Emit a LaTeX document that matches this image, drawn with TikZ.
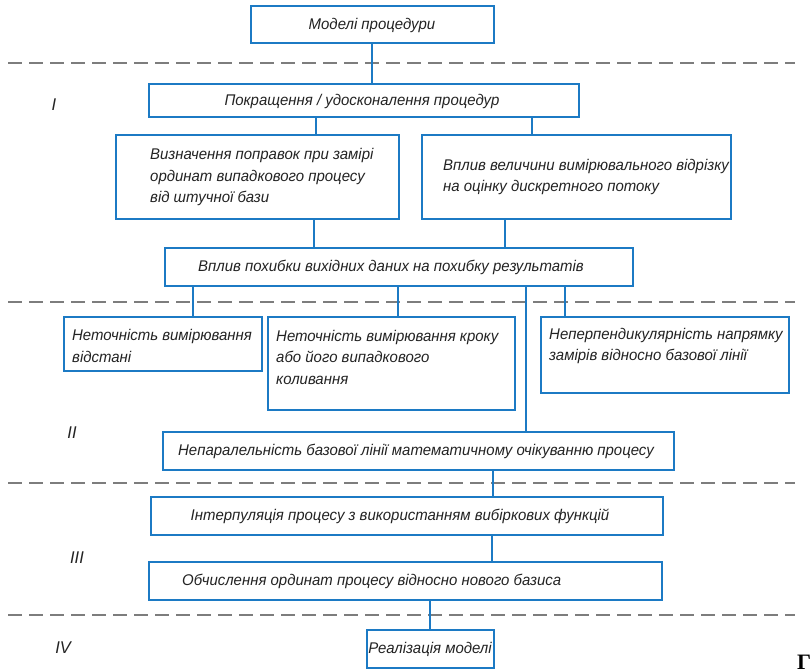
\documentclass[tikz,border=0pt]{standalone}
\usepackage{fontspec}
\setmainfont{Liberation Sans}
\newfontfamily\gost{Liberation Sans}[FakeStretch=0.965]
\newfontfamily\serifbold{Liberation Serif}
\usetikzlibrary{calc}

\definecolor{boxblue}{RGB}{28,122,196}
\definecolor{ink}{RGB}{35,35,35}
\definecolor{sepgray}{RGB}{125,125,125}

\begin{document}
\begin{tikzpicture}[x=1pt,y=-1pt,
  box/.style={draw=boxblue, line width=1.8pt, rectangle, inner sep=0pt, anchor=north west},
  link/.style={draw=boxblue, line width=1.6pt},
  sep/.style={draw=sepgray, line width=1.4pt, dash pattern=on 14pt off 7pt},
  txt/.style={font=\gost\itshape\fontsize{15.5}{21.5}\selectfont, text=ink, inner sep=0pt, align=left},
  roman/.style={font=\gost\itshape\fontsize{17}{17}\selectfont, text=ink, inner sep=0pt}]

% page
\fill[white] (0,0) rectangle (812,669);
\useasboundingbox (0,0) rectangle (812,669);

% stage separators
\draw[sep] (8,63) -- (795,63);
\draw[sep] (8,302) -- (795,302);
\draw[sep] (8,483) -- (795,483);
\draw[sep] (8,615) -- (795,615);

% boxes
\node[box, minimum width=243pt, minimum height=37pt] (b1) at (250,5) {};
\node[box, minimum width=430pt, minimum height=33pt] (b2) at (148,83) {};
\node[box, minimum width=283pt, minimum height=84pt] (b3) at (115,134) {};
\node[box, minimum width=309pt, minimum height=84pt] (b4) at (421,134) {};
\node[box, minimum width=468pt, minimum height=38pt] (b5) at (164,247) {};
\node[box, minimum width=198pt, minimum height=54pt] (b6) at (63,316) {};
\node[box, minimum width=247pt, minimum height=93pt] (b7) at (267,316) {};
\node[box, minimum width=248pt, minimum height=76pt] (b8) at (540,316) {};
\node[box, minimum width=511pt, minimum height=38pt] (b9) at (162,431) {};
\node[box, minimum width=512pt, minimum height=38pt] (b10) at (150,496) {};
\node[box, minimum width=513pt, minimum height=38pt] (b11) at (148,561) {};
\node[box, minimum width=127pt, minimum height=38pt] (b12) at (366,629) {};

% texts
\node[txt] (t1) at (372,25) {Моделі процедури};
\node[txt] (t2) at (362,101) {Покращення / удосконалення процедур};
\node[txt, anchor=west] (t3) at (150,177) {Визначення поправок при замірі\\ординат випадкового процесу\\від штучної бази};
\node[txt, anchor=west] (t4) at (443,177) {Вплив величини вимірювального відрізку\\на оцінку дискретного потоку};
\node[txt] (t5) at (391,267) {Вплив похибки вихідних даних на похибку результатів};
\node[txt, anchor=west] (t6) at (72,346) {Неточність вимірювання\\відстані};
\node[txt, anchor=west] (t7) at (276,357) {Неточність вимірювання кроку\\або його випадкового\\коливання};
\node[txt, anchor=west] (t8) at (549,346) {Неперпендикулярність напрямку\\замірів відносно базової лінії};
\node[txt] (t9) at (416,451) {Непаралельність базової лінії математичному очікуванню процесу};
\node[txt] (t10) at (400,516) {Інтерпуляція процесу з використанням вибіркових функцій};
\node[txt, anchor=west] (t11) at (182,581) {Обчислення ординат процесу відносно нового базиса};
\node[txt] (t12) at (430,649) {Реалізація моделі};

% stage numbers
\node[roman] (r1) at (54,105) {I};
\node[roman] (r2) at (72,433) {II};
\node[roman] (r3) at (77,558) {III};
\node[roman] (r4) at (63,648) {IV};

% connectors
\draw[link] (372,0 |- b1.south) -- (372,0 |- b2.north);
\draw[link] (316,0 |- b2.south) -- (316,0 |- b3.north);
\draw[link] (532,0 |- b2.south) -- (532,0 |- b4.north);
\draw[link] (314,0 |- b3.south) -- (314,0 |- b5.north);
\draw[link] (505,0 |- b4.south) -- (505,0 |- b5.north);
\draw[link] (193,0 |- b5.south) -- (193,0 |- b6.north);
\draw[link] (398,0 |- b5.south) -- (398,0 |- b7.north);
\draw[link] (526,0 |- b5.south) -- (526,0 |- b9.north);
\draw[link] (565,0 |- b5.south) -- (565,0 |- b8.north);
\draw[link] (493,0 |- b9.south) -- (493,0 |- b10.north);
\draw[link] (492,0 |- b10.south) -- (492,0 |- b11.north);
\draw[link] (430,0 |- b11.south) -- (430,0 |- b12.north);

% letter cut by the page edge
\node[font=\serifbold\bfseries\fontsize{22}{22}\selectfont, anchor=north west, inner sep=0pt, text=black] (g) at (797,655) {Г};
\end{tikzpicture}
\end{document}
